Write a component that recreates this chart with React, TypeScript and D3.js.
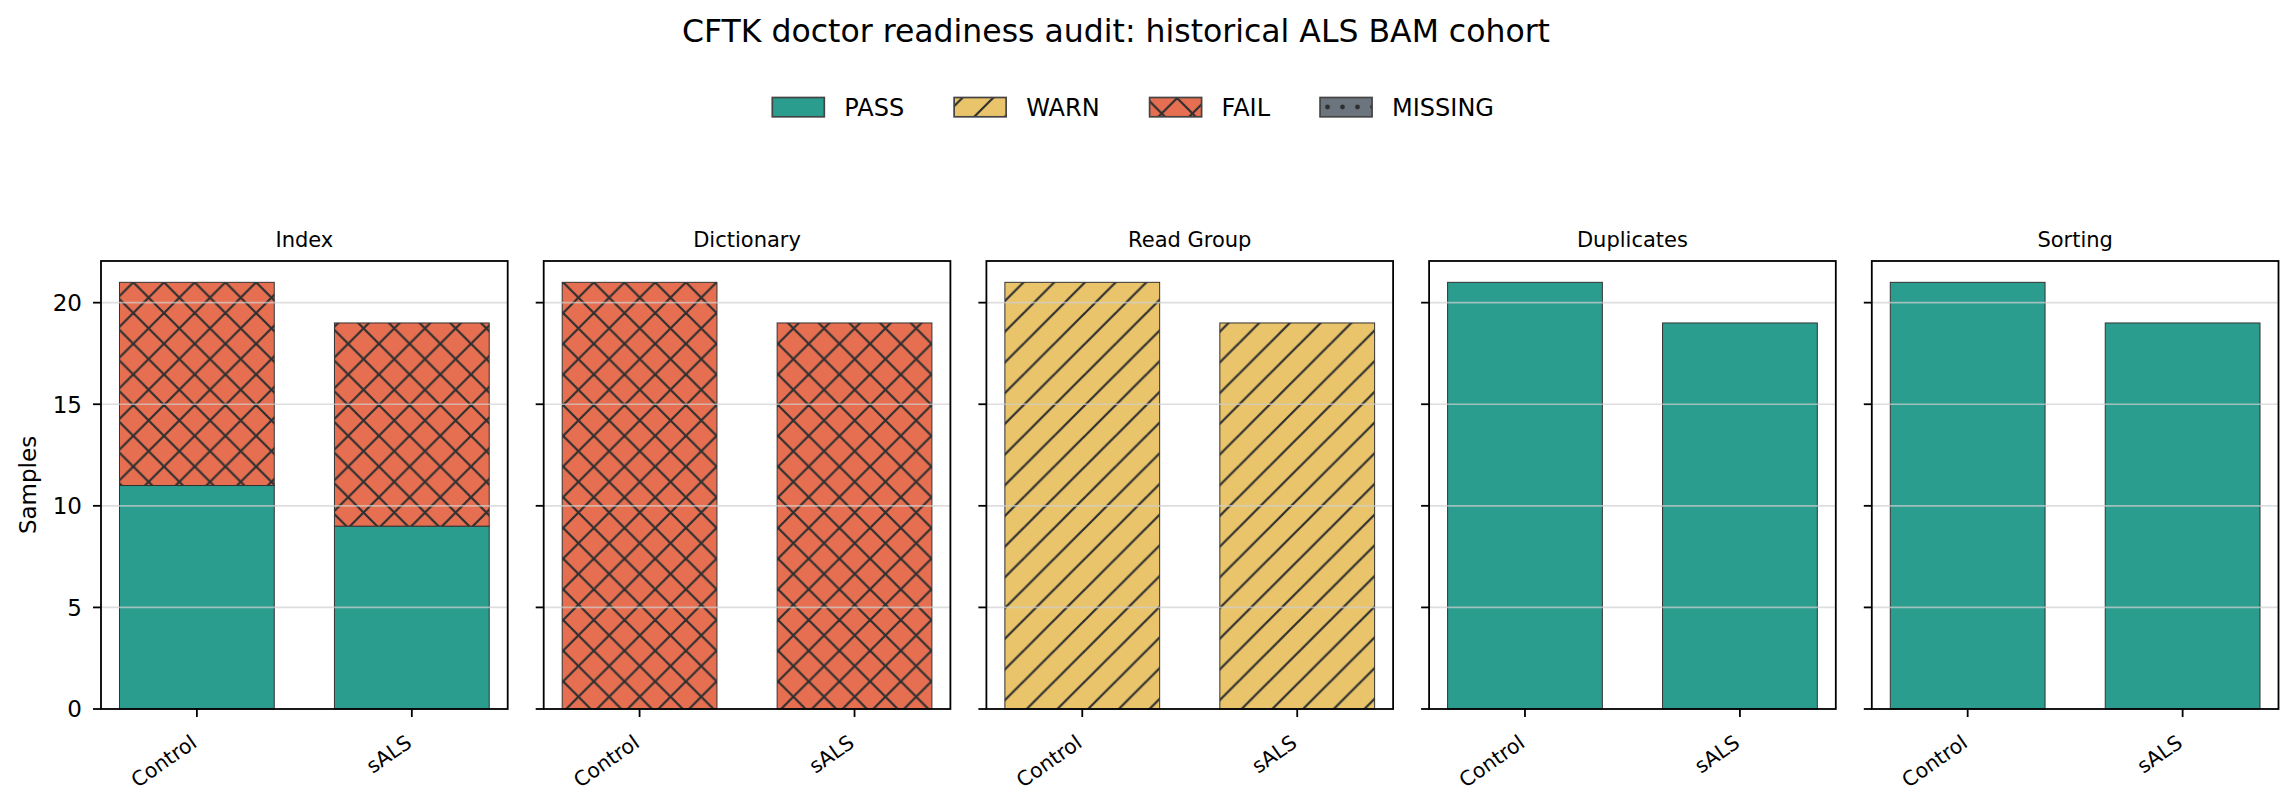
import { useRef, useEffect } from 'react';
import * as d3 from 'd3';

const checks = ['Index', 'Dictionary', 'Read Group', 'Duplicates', 'Sorting'];
const cohorts = ['Control', 'sALS'];
const statuses = ['PASS', 'WARN', 'FAIL', 'MISSING'];

// counts per check, one value per cohort (Control, sALS)
const passCounts = [[11, 9], [0, 0], [0, 0], [21, 19], [21, 19]];
const warnCounts = [[0, 0], [0, 0], [21, 19], [0, 0], [0, 0]];
const failCounts = [[10, 10], [21, 19], [0, 0], [0, 0], [0, 0]];
const missingCounts = [[0, 0], [0, 0], [0, 0], [0, 0], [0, 0]];

const yTicks = [0, 5, 10, 15, 20];

const colors: Record<string, string> = {
    PASS: '#2a9d8f',
    WARN: '#e9c46a',
    FAIL: '#e76f51',
    MISSING: '#6c757d',
};
const hatches: Record<string, string | null> = {
    PASS: null,
    WARN: 'hatch-ne',
    FAIL: 'hatch-x',
    MISSING: 'hatch-dot',
};

const W = 2296;
const H = 803;
const FONT = '"DejaVu Sans", sans-serif';

export default function App() {
    const ref = useRef<SVGSVGElement>(null);

    useEffect(() => {
        if (!ref.current) return;
        const svg = d3.select(ref.current);
        svg.selectAll('*').remove();

        // hatch patterns
        const defs = svg.append('defs');
        const a = 30.7;
        const hx = defs.append('pattern')
            .attr('id', 'hatch-x')
            .attr('patternUnits', 'userSpaceOnUse')
            .attr('width', a).attr('height', a)
            .attr('x', 10.5).attr('y', 6);
        const hne = defs.append('pattern')
            .attr('id', 'hatch-ne')
            .attr('patternUnits', 'userSpaceOnUse')
            .attr('width', a).attr('height', a)
            .attr('x', 10.5).attr('y', 6);
        [-a, 0, a].forEach(c => {
            // "\" lines: y = x + c
            hx.append('line')
                .attr('x1', -a).attr('y1', -a + c).attr('x2', 2 * a).attr('y2', 2 * a + c)
                .attr('stroke', '#2f2f2f').attr('stroke-width', 2.2);
        });
        [0, a, 2 * a].forEach(c => {
            // "/" lines: x + y = c
            [hx, hne].forEach(p => p.append('line')
                .attr('x1', -a).attr('y1', c + a).attr('x2', 2 * a).attr('y2', c - 2 * a)
                .attr('stroke', '#2f2f2f').attr('stroke-width', 2.2));
        });
        const hd = defs.append('pattern')
            .attr('id', 'hatch-dot')
            .attr('patternUnits', 'userSpaceOnUse')
            .attr('width', 15).attr('height', 30)
            .attr('x', 0).attr('y', 92);
        hd.append('circle').attr('cx', 7.5).attr('cy', 15).attr('r', 2.4).attr('fill', '#2f2f2f');

        // suptitle
        svg.append('text')
            .attr('x', 1116).attr('y', 41.5)
            .attr('text-anchor', 'middle')
            .style('font-family', FONT).style('font-size', '31.5px')
            .text('CFTK doctor readiness audit: historical ALS BAM cohort');

        // legend
        let lx = 772.3;
        statuses.forEach(s => {
            svg.append('rect')
                .attr('x', lx).attr('y', 97.5).attr('width', 52).attr('height', 19.3)
                .attr('fill', colors[s]);
            if (hatches[s]) {
                svg.append('rect')
                    .attr('x', lx).attr('y', 97.5).attr('width', 52).attr('height', 19.3)
                    .attr('fill', `url(#${hatches[s]})`);
            }
            svg.append('rect')
                .attr('x', lx).attr('y', 97.5).attr('width', 52).attr('height', 19.3)
                .attr('fill', 'none').attr('stroke', '#444').attr('stroke-width', 1.7);
            const t = svg.append('text')
                .attr('x', lx + 72).attr('y', 115.8)
                .style('font-family', FONT).style('font-size', '24px')
                .text(s);
            const tw = (t.node() as SVGTextElement).getComputedTextLength();
            lx = lx + 72 + tw + 50;
        });

        const top = 261;
        const bottom = 709;
        const panelLeft = 101;
        const panelW = 406.7;
        const panelStep = 442.7;
        const barW = 0.72;

        const y = d3.scaleLinear().domain([0, 22.05]).range([bottom, top]);

        const stack = d3.stack<any>().keys(statuses);

        checks.forEach((check, ci) => {
            const left = panelLeft + ci * panelStep;
            const x = d3.scaleLinear()
                .domain([-barW / 2 - 0.086, cohorts.length - 1 + barW / 2 + 0.086])
                .range([left, left + panelW]);
            const g = svg.append('g');

            const rows = cohorts.map((c, k) => ({
                cohort: c,
                idx: k,
                PASS: passCounts[ci][k],
                WARN: warnCounts[ci][k],
                FAIL: failCounts[ci][k],
                MISSING: missingCounts[ci][k],
            }));
            const series = stack(rows);
            const bw = x(barW) - x(0);

            series.forEach(layer => {
                const key = layer.key;
                layer.forEach(d => {
                    if (d[1] - d[0] <= 0) return;
                    const bx = x(d.data.idx) - bw / 2;
                    const by = y(d[1]);
                    const bh = y(d[0]) - y(d[1]);
                    g.append('rect')
                        .attr('x', bx).attr('y', by).attr('width', bw).attr('height', bh)
                        .attr('fill', colors[key]);
                    if (hatches[key]) {
                        g.append('rect')
                            .attr('x', bx).attr('y', by).attr('width', bw).attr('height', bh)
                            .attr('fill', `url(#${hatches[key]})`);
                    }
                    g.append('rect')
                        .attr('x', bx).attr('y', by).attr('width', bw).attr('height', bh)
                        .attr('fill', 'none').attr('stroke', '#333').attr('stroke-width', 1);
                });
            });

            // grid on top of bars
            g.selectAll('.grid')
                .data(yTicks.filter(v => v > 0))
                .join('line')
                .attr('x1', left).attr('x2', left + panelW)
                .attr('y1', d => y(d)).attr('y2', d => y(d))
                .attr('stroke', '#d0d0d0').attr('stroke-opacity', 0.7).attr('stroke-width', 1.6);

            // frame
            g.append('rect')
                .attr('x', left).attr('y', top).attr('width', panelW).attr('height', bottom - top)
                .attr('fill', 'none').attr('stroke', '#000').attr('stroke-width', 1.8);

            // y ticks
            yTicks.forEach(v => {
                g.append('line')
                    .attr('x1', left - 8).attr('x2', left)
                    .attr('y1', y(v)).attr('y2', y(v))
                    .attr('stroke', '#000').attr('stroke-width', 1.8);
                if (ci === 0) {
                    g.append('text')
                        .attr('x', left - 19).attr('y', y(v))
                        .attr('dy', '0.36em')
                        .attr('text-anchor', 'end')
                        .style('font-family', FONT).style('font-size', '23px')
                        .text(String(v));
                }
            });

            // x ticks
            cohorts.forEach((c, k) => {
                g.append('line')
                    .attr('x1', x(k)).attr('x2', x(k))
                    .attr('y1', bottom).attr('y2', bottom + 8)
                    .attr('stroke', '#000').attr('stroke-width', 1.8);
                g.append('text')
                    .attr('transform', `translate(${x(k) - 7}, ${bottom + 25}) rotate(-35)`)
                    .attr('text-anchor', 'end')
                    .attr('dy', '0.7em')
                    .style('font-family', FONT).style('font-size', '20.5px')
                    .text(c);
            });

            // panel title
            g.append('text')
                .attr('x', left + panelW / 2).attr('y', 247)
                .attr('text-anchor', 'middle')
                .style('font-family', FONT).style('font-size', '21px')
                .text(check);
        });

        // y label
        svg.append('text')
            .attr('transform', `translate(36, ${(top + bottom) / 2}) rotate(-90)`)
            .attr('text-anchor', 'middle')
            .style('font-family', FONT).style('font-size', '23px')
            .text('Samples');
    }, []);

    return (
        <svg ref={ref} width={W} height={H}
            style={{ position: 'absolute', left: 0, top: 0, background: '#fff' }} />
    );
}
